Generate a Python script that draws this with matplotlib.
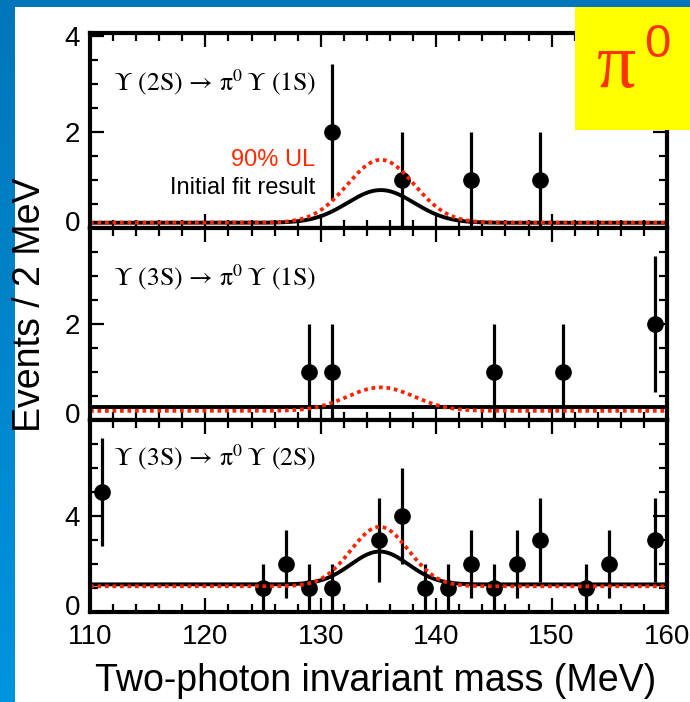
import numpy as np
import matplotlib
matplotlib.use('Agg')
import matplotlib.pyplot as plt
from matplotlib.patches import Rectangle
from matplotlib.ticker import MultipleLocator, FixedLocator
from matplotlib.colors import LinearSegmentedColormap

# ---------------- data ----------------
mass_range = [110, 160]
xtick_values = [110, 120, 130, 140, 150, 160]

p1_mass = [131, 137, 143, 149]
p1_counts = [2, 1, 1, 1]
p1_err = [1.41, 1.0, 1.0, 1.0]

p2_mass = [129, 131, 145, 151, 159]
p2_counts = [1, 1, 1, 1, 2]
p2_err = [1.0, 1.0, 1.0, 1.0, 1.41]

p3_mass = [111, 125, 127, 129, 131, 135, 137, 139, 141, 143, 145, 147, 149, 153, 155, 159]
p3_counts = [5, 1, 2, 1, 1, 3, 4, 1, 1, 2, 1, 2, 3, 1, 2, 3]
p3_err = [2.24, 1.0, 1.41, 1.0, 1.0, 1.73, 2.0, 1.0, 1.0, 1.41, 1.0, 1.41, 1.73, 1.0, 1.41, 1.73]

# fit-curve parameters (Gaussian peak on flat background)
fit_mean = [135.2, 135.2, 135.1]
fit_sigma = [2.9, 2.9, 2.5]
fit_bkg = [0.11, 0.27, 1.15]
fit_amp = [0.68, 0.0, 1.37]
ul_bkg = [0.11, 0.19, 1.07]
ul_amp = [1.31, 0.49, 2.48]

panel_labels = [r'$\mathrm{\Upsilon\ (2S)\,\rightarrow\,\pi^0\,\Upsilon\ (1S)}$',
                r'$\mathrm{\Upsilon\ (3S)\,\rightarrow\,\pi^0\,\Upsilon\ (1S)}$',
                r'$\mathrm{\Upsilon\ (3S)\,\rightarrow\,\pi^0\,\Upsilon\ (2S)}$']
panel_ymax = [4.06, 4.0, 8.0]
panel_yticks = [[0, 2, 4], [0, 2], [0, 4]]
panel_yminor = [0.5, 0.5, 1.0]

ylabel_text = 'Events / 2 MeV'
xlabel_text = 'Two-photon invariant mass (MeV)'
ul_text = '90% UL'
fit_text = 'Initial fit result'

# ---------------- figure ----------------
W, H = 690, 702
plt.rcParams['font.family'] = ['Liberation Sans', 'DejaVu Sans']
plt.rcParams['mathtext.fontset'] = 'stix'
fig = plt.figure(figsize=(W / 100, H / 100), dpi=100)
fig.patch.set_facecolor('white')

RED = '#ff2200'


def px_rect(x0, top, w, bottom):
    return [x0 / W, 1 - bottom / H, w / W, (bottom - top) / H]


# blue frame
ax_bg = fig.add_axes([0, 0, 15 / W, 1])
grad = np.linspace(0, 1, 256).reshape(-1, 1)
cmap = LinearSegmentedColormap.from_list('b', ['#0076b9', '#0094df'])
ax_bg.imshow(grad, aspect='auto', cmap=cmap, extent=[0, 1, 0, 1], origin='upper')
ax_bg.set_axis_off()
fig.add_artist(Rectangle((0, 1 - 7 / H), 1, 7 / H, transform=fig.transFigure,
                         facecolor='#0077bb', edgecolor='none', zorder=4))

panel_px = [(33, 228), (228, 420), (420, 612)]
masses = [p1_mass, p2_mass, p3_mass]
counts = [p1_counts, p2_counts, p3_counts]
errs = [p1_err, p2_err, p3_err]
label_y = [0.749, 0.745, 0.807]

xs = np.linspace(mass_range[0], mass_range[1], 600)

axes = []
for i in range(3):
    top, bot = panel_px[i]
    ax = fig.add_axes(px_rect(90, top, 577, bot))
    axes.append(ax)
    ax.set_xlim(*mass_range)
    ax.set_ylim(0, panel_ymax[i])

    ax.errorbar(masses[i], counts[i], yerr=errs[i], fmt='o', color='black',
                markersize=11, elinewidth=2.3, capsize=0, zorder=3, clip_on=True)

    fit_curve = fit_bkg[i] + fit_amp[i] * np.exp(-0.5 * ((xs - fit_mean[i]) / fit_sigma[i]) ** 2)
    ul_curve = ul_bkg[i] + ul_amp[i] * np.exp(-0.5 * ((xs - fit_mean[i]) / fit_sigma[i]) ** 2)
    ax.plot(xs, fit_curve, color='black', lw=2.8, zorder=4, solid_capstyle='butt')
    ax.plot(xs, ul_curve, color=RED, lw=2.7, linestyle=(0, (1, 1)),
            dash_capstyle='butt', zorder=5)

    for s in ax.spines.values():
        s.set_linewidth(3)
        s.set_zorder(6)

    ax.xaxis.set_major_locator(FixedLocator(xtick_values))
    ax.xaxis.set_minor_locator(MultipleLocator(2))
    ax.yaxis.set_minor_locator(MultipleLocator(panel_yminor[i]))
    ax.tick_params(which='both', direction='in', top=True, right=True,
                   width=1.6, color='black')
    ax.tick_params(which='major', length=10, labelsize=20, pad=7)
    ax.tick_params(which='minor', length=6)
    ax.tick_params(axis='x', which='major', pad=9)
    if i < 2:
        ax.tick_params(axis='x', labelbottom=False)
    ax.set_yticks(panel_yticks[i])
    # zero label is drawn slightly raised (as in the original)
    ax.set_yticklabels(['' if v == 0 else str(v) for v in panel_yticks[i]])
    ax.annotate('0', xy=(0, 0), xycoords=('axes fraction', 'data'),
                xytext=(-7, 5), textcoords='offset points', ha='right',
                va='center_baseline', fontsize=20, annotation_clip=False)

    ax.text(0.04, label_y[i], panel_labels[i], transform=ax.transAxes,
            ha='left', va='center', fontsize=18.5)

axes[2].set_xticks(xtick_values)
axes[2].set_xticklabels([str(v) for v in xtick_values])

axes[0].text(0.39, 0.349, ul_text, transform=axes[0].transAxes, ha='right',
             va='center', fontsize=17, color='#ff2a00')
axes[0].text(0.39, 0.205, fit_text, transform=axes[0].transAxes, ha='right',
             va='center', fontsize=17, color='black')

fig.text(30 / W, 1 - 305 / H, ylabel_text, rotation=90, ha='center', va='center',
         fontsize=27)
fig.text(376 / W, 1 - 681 / H, xlabel_text, ha='center', va='center', fontsize=27)

# yellow pi0 box
fig.add_artist(Rectangle((575 / W, 1 - 130 / H), 115 / W, 123 / H,
                         transform=fig.transFigure, facecolor='#ffff00',
                         edgecolor='none', zorder=10))
fig.text(617 / W, 1 - 68 / H, '\u03c0', ha='center', va='center', fontsize=56,
         color='#ff3300', family=['Liberation Serif', 'DejaVu Serif'], zorder=11)
fig.text(657 / W, 1 - 45 / H, '0', ha='center', va='center', fontsize=34,
         color='#ff3300', zorder=11)

fig.savefig('out.png', dpi=100, facecolor=fig.get_facecolor())
